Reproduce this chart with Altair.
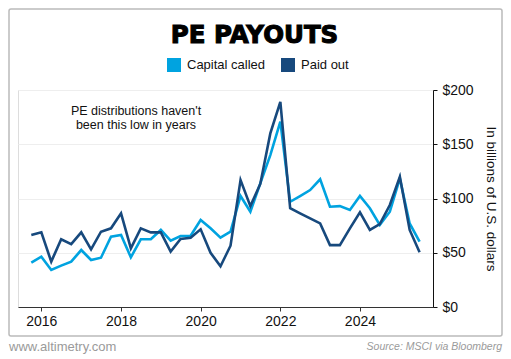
import altair as alt
import pandas as pd

quarters = pd.date_range(start="2015-10-01", periods=40, freq="QS").strftime("%Y-%m-%d").tolist()

capital_called = [40.8, 46.4, 34.1, 38.1, 41.8, 52.5, 43.3, 45.4, 64.8, 66.4,
                  45.8, 62.4, 62.4, 71.0, 61.1, 65.4, 65.7, 80.2, 72.5, 63.9,
                  69.4, 102.3, 87.8, 114.0, 140.0, 170.8, 97.0, 102.3, 107.8, 117.7,
                  92.4, 93.0, 89.4, 102.3, 91.0, 75.6, 87.8, 118.6, 77.0, 60.2]
paid_out = [66.4, 68.8, 41.8, 62.4, 58.0, 68.8, 53.2, 69.4, 72.5, 86.3,
            54.1, 72.5, 68.8, 68.8, 51.0, 62.7, 63.9, 71.6, 50.0, 37.5,
            56.5, 117.0, 93.0, 113.4, 160.0, 189.0, 91.0, 86.3, 81.7, 77.0,
            57.0, 57.0, 72.5, 87.3, 71.0, 76.5, 94.0, 120.0, 71.0, 50.4]

series_names = ["Capital called", "Paid out"]
series_colors = ["#00A3E0", "#17497D"]
y_ticks = [0, 50, 100, 150, 200]
x_ticks = ["2016-01-01", "2018-01-01", "2020-01-01", "2022-01-01", "2024-01-01"]

rows = []
for d, v in zip(quarters, capital_called):
    rows.append({"date": d, "value": v, "series": "Capital called", "order": 0})
for d, v in zip(quarters, paid_out):
    rows.append({"date": d, "value": v, "series": "Paid out", "order": 1})
df = pd.DataFrame(rows)

FONT = "Liberation Sans, Arial, sans-serif"

x_enc = alt.X("date:T",
              scale=alt.Scale(domain=["2015-06-01", "2025-11-01"]),
              axis=alt.Axis(title=None, format="%Y", values=x_ticks,
                            grid=False, domainColor="#333", tickColor="#333", tickSize=4,
                            labelFont=FONT, labelFontSize=14, labelColor="#111", labelPadding=3))
y_enc = alt.Y("value:Q",
              scale=alt.Scale(domain=[0, 200]),
              axis=alt.Axis(orient="right", title="In billions of U.S. dollars", values=y_ticks,
                            labelExpr="'$' + datum.value", grid=True, gridColor="#eeeeee",
                            domainColor="#111", tickColor="#111", tickSize=4,
                            labelFont=FONT, labelFontSize=14, labelColor="#111", labelPadding=5,
                            titleFont=FONT, titleFontSize=13.5, titleFontWeight="normal", titleColor="#111",
                            titlePadding=10))
color_scale = alt.Scale(domain=series_names, range=series_colors)

lines = alt.Chart(df).mark_line(strokeWidth=2.6, clip=False).encode(
    x=x_enc, y=y_enc,
    color=alt.Color("series:N", scale=color_scale, legend=None),
    order="order:Q",
    detail="series:N",
)

legend_keys = alt.Chart(df).mark_square(size=1, opacity=0, filled=True).encode(
    x="date:T", y="value:Q",
    color=alt.Color("series:N", scale=color_scale,
                    legend=alt.Legend(title=None, orient="none", direction="horizontal",
                                      legendX=149, legendY=-32, symbolType="square", symbolSize=196,
                                      symbolStrokeWidth=0, symbolOpacity=1,
                                      labelFont=FONT, labelFontSize=13, labelColor="#111",
                                      labelOffset=6, columnPadding=15)),
)

one = df.iloc[[0]]

border = alt.Chart(one).mark_rect(fill="white", fillOpacity=0, stroke="#bbbbbb", strokeWidth=1.5,
                                  cornerRadius=2, clip=False).encode(
    x=alt.value(-9), x2=alt.value(484), y=alt.value(-81), y2=alt.value(246)
)

title = alt.Chart(one).mark_text(text="PE PAYOUTS", font="DejaVu Sans", fontWeight="bold", fontSize=24.5,
                                 color="#000", stroke="#000", strokeWidth=1.1,
                                 align="center", baseline="middle").encode(
    x=alt.value(236.5), y=alt.value(-54))

note = alt.Chart(one).mark_text(text=["PE distributions haven't", "been this low in years"],
                                font=FONT, fontSize=12.5, color="#111", align="center",
                                baseline="middle", lineHeight=14).encode(
    x=alt.value(118), y=alt.value(21))

site = alt.Chart(one).mark_text(text="www.altimetry.com", font=FONT,
                                fontSize=13, color="#9a9a9a", align="left", baseline="middle").encode(
    x=alt.value(-9), y=alt.value(257))

source = alt.Chart(one).mark_text(text="Source: MSCI via Bloomberg", font=FONT, fontStyle="italic",
                                  fontSize=10.5, color="#9a9a9a", align="right", baseline="middle").encode(
    x=alt.value(484), y=alt.value(257))

chart = alt.layer(border, legend_keys, lines, title, note, site, source).resolve_legend(
    color="independent"
).properties(
    width=415, height=217,
    autosize=alt.AutoSizeParams(type="none"),
    padding={"left": 10, "top": 82, "right": 70, "bottom": 50},
).configure_view(stroke=None).configure(background="white")

chart.save("out.html", embed_options={"renderer": "svg", "actions": False})
